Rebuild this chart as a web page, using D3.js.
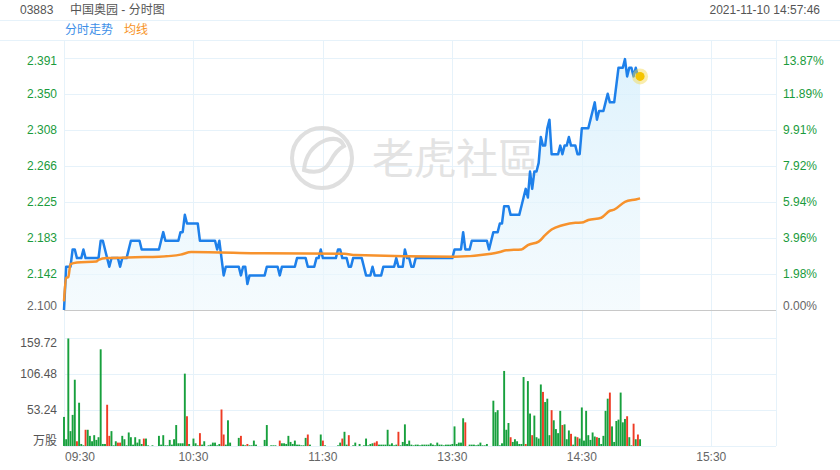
<!DOCTYPE html>
<html><head><meta charset="utf-8">
<script src="https://cdn.jsdelivr.net/npm/d3@7/dist/d3.min.js"></script>
<style>
html,body{margin:0;padding:0;background:#fff;}
svg{display:block;font-family:"Liberation Sans",Arial,"Noto Sans CJK SC",sans-serif;}
</style></head>
<body>
<svg id="chart" width="840" height="470"></svg>
<script>
const code = "03883";
const title = "中国奥园 - 分时图";
const stamp = "2021-11-10 14:57:46";
const legendNames = ["分时走势", "均线"];
const timeLabels = ["09:30", "10:30", "11:30", "13:30", "14:30", "15:30"];
const timeTickIdx = [0, 60, 120, 180, 240, 300];
const totalMinutes = 330;
const prevClose = 2.100;
const priceLabels = ["2.100","2.142","2.183","2.225","2.266","2.308","2.350","2.391"];
const pctLabels = ["0.00%","1.98%","3.96%","5.94%","7.92%","9.91%","11.89%","13.87%"];
const volLabels = ["万股","53.24","106.48","159.72"];
const volMax = 159.72;

// per-minute price (index 0 = 09:30, 150 = 13:00)
const price = [
2.10,2.15,2.15,2.15,2.17,2.17,2.16,2.16,2.16,2.17,
2.16,2.16,2.16,2.16,2.16,2.16,2.16,2.18,2.18,2.17,
2.16,2.15,2.16,2.16,2.16,2.16,2.15,2.16,2.16,2.16,
2.17,2.18,2.18,2.18,2.18,2.18,2.17,2.17,2.17,2.17,
2.17,2.17,2.17,2.17,2.17,2.18,2.19,2.18,2.18,2.18,
2.18,2.18,2.18,2.18,2.19,2.19,2.21,2.20,2.20,2.20,
2.20,2.20,2.20,2.18,2.18,2.18,2.18,2.18,2.18,2.18,
2.18,2.17,2.18,2.16,2.14,2.15,2.15,2.15,2.15,2.15,
2.15,2.15,2.14,2.15,2.15,2.13,2.14,2.14,2.14,2.14,
2.14,2.14,2.14,2.14,2.15,2.15,2.15,2.15,2.15,2.15,
2.14,2.15,2.15,2.15,2.15,2.15,2.15,2.15,2.16,2.16,
2.16,2.16,2.16,2.15,2.15,2.15,2.15,2.16,2.16,2.17,
2.16,2.16,2.16,2.16,2.16,2.16,2.16,2.17,2.17,2.16,
2.16,2.16,2.15,2.15,2.16,2.16,2.16,2.16,2.16,2.15,
2.14,2.14,2.14,2.15,2.14,2.14,2.14,2.14,2.15,2.15,
2.15,2.15,2.15,2.15,2.16,2.15,2.15,2.15,2.17,2.16,
2.16,2.15,2.15,2.16,2.16,2.16,2.16,2.16,2.16,2.16,
2.16,2.16,2.16,2.16,2.16,2.16,2.16,2.16,2.16,2.16,
2.16,2.17,2.17,2.17,2.17,2.19,2.17,2.17,2.17,2.18,
2.18,2.18,2.18,2.18,2.18,2.18,2.18,2.17,2.18,2.19,
2.19,2.19,2.20,2.20,2.22,2.22,2.22,2.21,2.21,2.21,
2.21,2.21,2.22,2.23,2.24,2.23,2.26,2.24,2.26,2.26,
2.27,2.30,2.29,2.29,2.31,2.32,2.28,2.28,2.28,2.28,
2.29,2.28,2.29,2.29,2.30,2.29,2.29,2.29,2.28,2.28,
2.31,2.31,2.31,2.31,2.32,2.33,2.34,2.32,2.33,2.33,
2.33,2.34,2.35,2.34,2.34,2.34,2.36,2.38,2.38,2.38,
2.39,2.37,2.38,2.38,2.37,2.38,2.37,2.37
];

// average line readings: [minute index, value]
const avgIdx = [0,1,2,3,6,15,16,20,33,44,54,59,93,130,135,181,198,202,205,212,215,220,223,226,231,237,240,243,249,253,255,260,265,267];
const avgVal = [2.110,2.137,2.138,2.153,2.155,2.156,2.158,2.160,2.161,2.1616,2.164,2.167,2.1655,2.165,2.1635,2.1616,2.165,2.167,2.169,2.170,2.175,2.179,2.1866,2.193,2.198,2.2009,2.201,2.204,2.2066,2.2147,2.216,2.225,2.2278,2.229];

// per-minute volume (万股)
const volume = [
43,10,159,22,46,98,7,64,3,1,
24,24,15,7,16,9,13,143,3,3,
61,15,22,1,7,5,5,15,10,1,
20,13,2,13,5,10,3,11,11,1,
0,1,0,0,15,2,16,1,1,9,
2,10,31,4,4,4,107,44,3,0,
11,4,1,19,2,7,0,1,2,5,
5,1,3,54,17,2,38,5,0,0,
0,12,15,2,1,3,1,1,8,2,
0,0,0,9,31,0,1,1,1,0,
8,4,4,3,15,6,3,8,2,2,
1,1,12,17,2,0,0,0,0,17,
8,1,0,0,0,0,0,1,5,11,
21,2,16,0,1,5,0,3,0,1,
11,1,3,4,5,7,2,2,2,2,
24,2,4,1,2,21,1,6,32,3,
8,2,1,2,2,1,2,2,2,2,
4,2,1,5,2,2,1,2,2,2,
3,29,3,5,5,41,35,0,2,2,
2,1,2,5,1,1,3,0,0,67,
50,53,1,4,111,24,34,13,6,10,
7,3,3,102,3,96,48,16,45,13,
11,91,80,65,70,16,53,38,25,19,
52,31,32,10,23,18,2,14,13,11,
57,8,52,16,9,20,14,13,12,3,
15,52,70,79,29,6,37,39,79,35,
40,44,13,1,33,10,17,10
];
const redBars = [6,10,20,21,25,26,37,57,63,73,74,82,85,100,113,120,129,132,144,145,155,186,207,214,217,222,226,231,235,238,247,253,261,264,266];

const svg = d3.select("#chart");
const W = 840;
const x = d3.scaleLinear().domain([0, totalMinutes]).range([64, 776]);
const y = d3.scaleLinear().domain([prevClose, +(prevClose*1.1387).toFixed(5)]).range([310, 58]);
const yv = d3.scaleLinear().domain([0, volMax]).range([446, 338]);
const gridC = "#e6f2fa";
const green = "#1a9b3c";

// header
svg.append("text").attr("x",20).attr("y",14).attr("font-size",12).attr("fill","#555").text(code);
svg.append("text").attr("x",70).attr("y",14).attr("font-size",12).attr("fill","#555").text(title);
svg.append("text").attr("x",820).attr("y",14).attr("text-anchor","end").attr("font-size",12).attr("fill","#555").text(stamp);
svg.append("line").attr("x1",0).attr("x2",W).attr("y1",20.5).attr("y2",20.5).attr("stroke",gridC);
svg.append("line").attr("x1",0).attr("x2",W).attr("y1",40.5).attr("y2",40.5).attr("stroke",gridC);
svg.append("text").attr("x",65).attr("y",34).attr("font-size",12).attr("fill","#3d8fe8").text(legendNames[0]);
svg.append("text").attr("x",124).attr("y",34).attr("font-size",12).attr("fill","#f7931e").text(legendNames[1]);

// vertical grid
const vgrid = svg.append("g");
timeTickIdx.forEach(t => {
  vgrid.append("line").attr("x1",Math.round(x(t))+0.5).attr("x2",Math.round(x(t))+0.5).attr("y1",40).attr("y2",446).attr("stroke",gridC);
});
vgrid.append("line").attr("x1",x(totalMinutes)+0.5).attr("x2",x(totalMinutes)+0.5).attr("y1",40).attr("y2",446).attr("stroke",gridC);

// horizontal price grid + labels
const pTicks = priceLabels.map(s => +s);
priceLabels.forEach((s,k) => {
  const yy = 310 - k*36;
  if (k>0) svg.append("line").attr("x1",64).attr("x2",776).attr("y1",yy+0.5).attr("y2",yy+0.5).attr("stroke",gridC);
  let ly = yy + 4;
  if (k===0) ly = yy; if (k===priceLabels.length-1) ly = yy + 7;
  svg.append("text").attr("x",57).attr("y",ly).attr("text-anchor","end").attr("font-size",12)
     .attr("fill", k===0 ? "#666" : green).text(s);
  svg.append("text").attr("x",783).attr("y",ly).attr("font-size",12)
     .attr("fill", k===0 ? "#666" : green).text(pctLabels[k]);
});

// volume grid + labels
volLabels.forEach((s,k) => {
  const yy = 446 - k*36;
  svg.append("line").attr("x1",64).attr("x2",776).attr("y1",yy+0.5).attr("y2",yy+0.5).attr("stroke",gridC);
  let ly = yy + 4;
  if (k===0) ly = yy - 1; if (k===volLabels.length-1) ly = yy + 9;
  svg.append("text").attr("x",57).attr("y",ly).attr("text-anchor","end").attr("font-size",12).attr("fill","#555").text(s);
});

// x labels
timeLabels.forEach((s,k) => {
  svg.append("text").attr("x", k===0 ? 65 : x(timeTickIdx[k])).attr("y",461)
    .attr("text-anchor", k===0 ? "start" : "middle").attr("font-size",12).attr("fill","#666").text(s);
});

// watermark
const wm = svg.append("g").attr("opacity",0.9);
wm.append("circle").attr("cx",322).attr("cy",158).attr("r",30).attr("fill","none").attr("stroke","#dcdcdc").attr("stroke-width",4);
wm.append("path").attr("d","M304,170 Q306,148 326,140 Q340,136 344,146 Q336,150 330,162 Q322,176 304,170 Z").attr("fill","none").attr("stroke","#dcdcdc").attr("stroke-width",4);
wm.append("text").attr("x",372).attr("y",174).attr("font-size",42).attr("fill","#e0e0e0")
  .attr("font-family","'Noto Sans CJK TC','Noto Sans CJK SC',sans-serif").text("老虎社區");

// area + price line
const pts = price.map((p,i)=>[i,p]);
const grad = svg.append("defs").append("linearGradient").attr("id","ag").attr("x1",0).attr("x2",0).attr("y1",0).attr("y2",1);
grad.append("stop").attr("offset","0%").attr("stop-color","#d6effc").attr("stop-opacity",0.8);
grad.append("stop").attr("offset","100%").attr("stop-color","#eef8fd").attr("stop-opacity",0.6);
svg.append("path").datum(pts).attr("fill","url(#ag)")
  .attr("d", d3.area().x(d=>x(d[0])).y0(310).y1(d=>y(d[1])));
svg.append("line").attr("x1",64).attr("x2",776).attr("y1",310.5).attr("y2",310.5).attr("stroke","#c8c8c8");

svg.append("path").datum(pts).attr("fill","none").attr("stroke","#1e80ea").attr("stroke-width",2.5)
  .attr("stroke-linejoin","round").attr("d", d3.line().x(d=>x(d[0])).y(d=>y(d[1])));
const avgPts = avgIdx.map((t,k)=>[t, avgVal[k]]);
svg.append("path").datum(avgPts).attr("fill","none").attr("stroke","#f7922c").attr("stroke-width",2.5)
  .attr("stroke-linejoin","round").attr("d", d3.line().curve(d3.curveMonotoneX).x(d=>x(d[0])).y(d=>y(d[1])));

// end marker
const last = pts[pts.length-1];
svg.append("circle").attr("cx",x(last[0])).attr("cy",y(last[1])).attr("r",8).attr("fill","#f3d84a").attr("opacity",0.45);
svg.append("circle").attr("cx",x(last[0])).attr("cy",y(last[1])).attr("r",4.5).attr("fill","#f5c400");

// volume bars
const redSet = new Set(redBars);
const bw = 1.9;
svg.append("g").selectAll("rect").data(volume.map((v,i)=>[i,v])).join("rect")
  .attr("x", d=>x(d[0]) - bw/2).attr("width", bw)
  .attr("y", d=>yv(d[1])).attr("height", d=>Math.max(0, 446 - yv(d[1])))
  .attr("fill", d=>redSet.has(d[0]) ? "#ee3b24" : "#17a03d");
</script>
</body></html>
